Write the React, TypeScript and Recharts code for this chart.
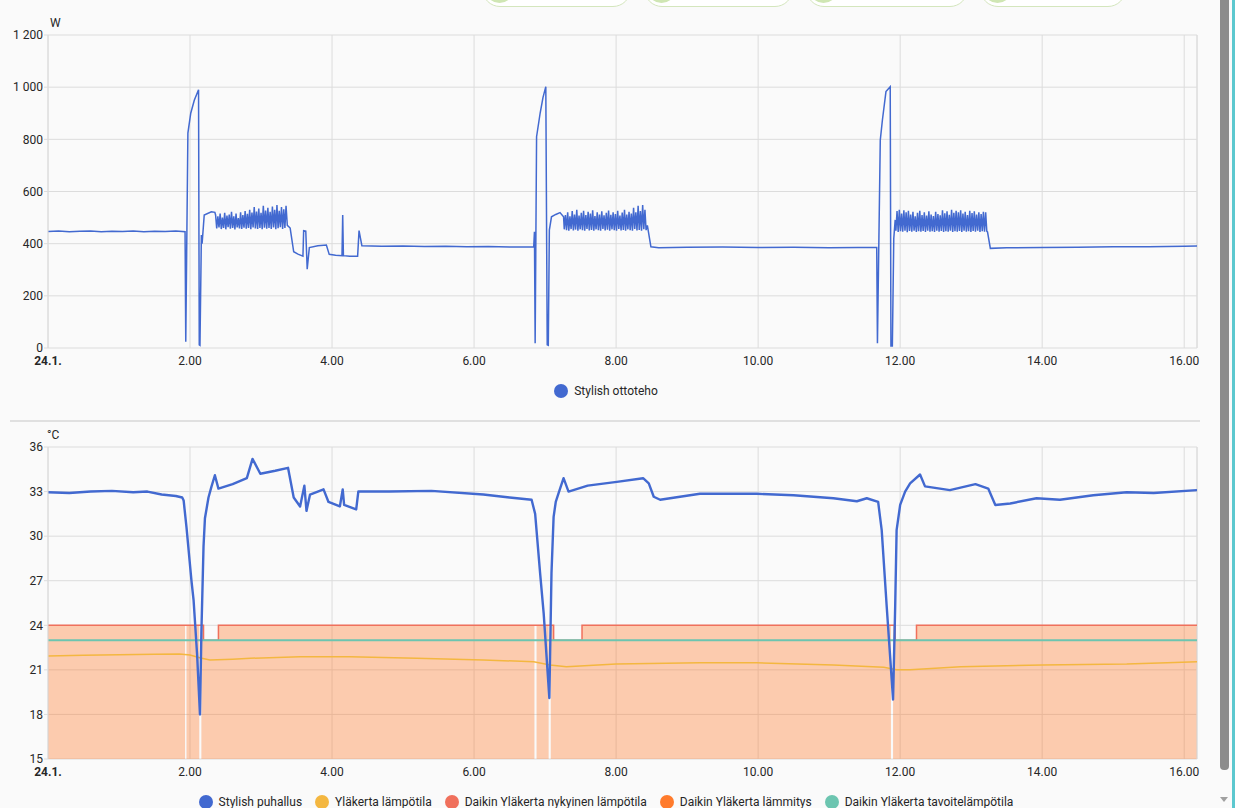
import React from "react";
import { LineChart, ComposedChart, Line, Area, XAxis, YAxis, CartesianGrid, ReferenceLine } from "recharts";

// time axis: hours since midnight 24.1.
const xTicks = [0, 2, 4, 6, 8, 10, 12, 14, 16];
const xTickLabels = ["24.1.", "2.00", "4.00", "6.00", "8.00", "10.00", "12.00", "14.00", "16.00"];
const xEnd = 16.18;

const powerTicks = [0, 200, 400, 600, 800, 1000, 1200];
const powerTickLabels = ["0", "200", "400", "600", "800", "1 000", "1 200"];
const tempTicks = [15, 18, 21, 24, 27, 30, 33, 36];

type Pt = [number, number | null];

// Stylish ottoteho (W)
const powerLead: Pt[] = [
  [0, 447], [0.15, 449], [0.3, 446], [0.45, 448], [0.6, 449], [0.75, 446], [0.9, 448], [1.05, 447],
  [1.2, 449], [1.35, 446], [1.5, 448], [1.65, 447], [1.8, 449], [1.93, 446], [1.94, 24], [1.97, 824],
  [2.01, 900], [2.06, 950], [2.12, 990], [2.13, 12], [2.14, 10], [2.16, 433], [2.17, 400], [2.2, 510],
  [2.3, 522], [2.35, 520],
];
const burstStep = 0.016;
const burst1Start = 2.36;
const burst1 = [
  510, 458, 505, 462, 515, 456, 500, 460, 518, 455, 508, 463, 512, 457, 522, 460, 505, 455, 515, 462,
  498, 458, 520, 456, 510, 461, 525, 457, 514, 460, 530, 455, 519, 462, 540, 458, 523, 456, 535, 460,
  518, 455, 545, 461, 527, 457, 538, 460, 522, 456, 542, 462, 530, 455, 548, 459, 526, 463, 540, 456,
  532, 460, 545,
];
const powerMid1: Pt[] = [
  [3.37, 470], [3.41, 460], [3.46, 369], [3.52, 360], [3.59, 352], [3.6, 450], [3.63, 448], [3.65, 302],
  [3.68, 385], [3.8, 392], [3.92, 395], [3.96, 359], [4.05, 356], [4.14, 354], [4.15, 510], [4.16, 354],
  [4.25, 352], [4.36, 352], [4.38, 450], [4.42, 392], [4.7, 390], [5.0, 391], [5.3, 389], [5.6, 390],
  [5.9, 388], [6.2, 389], [6.5, 387], [6.84, 388], [6.85, 446], [6.86, 18], [6.88, 810], [6.93, 900],
  [6.97, 960], [7.01, 1002], [7.03, 12], [7.045, 10], [7.06, 452], [7.09, 503], [7.15, 512], [7.21, 519],
  [7.26, 503],
];
const burst2Start = 7.27;
const burst2 = [
  455, 510, 452, 520, 450, 505, 456, 525, 451, 512, 454, 530, 450, 508, 455, 518, 452, 526, 450, 510,
  456, 522, 451, 515, 453, 528, 450, 506, 455, 520, 452, 512, 450, 524, 456, 509, 451, 518, 454, 527,
  450, 511, 455, 520, 452, 514, 450, 526, 456, 508, 451, 519, 453, 530, 450, 512, 455, 522, 452, 515,
  450, 538, 456, 520, 451, 545, 453, 525, 450, 548, 455, 530, 452,
];
const powerMid2: Pt[] = [
  [8.44, 470], [8.49, 388], [8.6, 384], [9.0, 386], [9.5, 387], [10.0, 385], [10.5, 386], [11.0, 384],
  [11.4, 385], [11.67, 385], [11.68, 18], [11.72, 797], [11.75, 874], [11.8, 983], [11.86, 1002],
  [11.87, 8], [11.89, 8], [11.91, 420], [11.93, 491],
];
const burst3Start = 11.94;
const burst3 = [
  450, 525, 445, 530, 448, 515, 446, 528, 450, 520, 444, 526, 449, 512, 446, 522, 450, 505, 445, 518,
  448, 526, 446, 510, 449, 520, 445, 508, 450, 524, 446, 512, 448, 506, 445, 522, 450, 514, 446, 509,
  449, 528, 445, 516, 448, 524, 446, 511, 450, 530, 445, 518, 448, 526, 446, 520, 449, 528, 445, 515,
  450, 522, 446, 510, 448, 526, 445, 517, 449, 524, 446, 512, 450, 520, 445, 514, 448, 522, 446, 520,
  448,
];
const powerTail: Pt[] = [
  [13.23, 445], [13.27, 382], [13.5, 384], [14.0, 385], [14.5, 386], [15.0, 388], [15.5, 388],
  [16.0, 390], [16.18, 391],
];

// Stylish puhallus (°C)
const supplyAir: Pt[] = [
  [0, 32.95], [0.3, 32.9], [0.6, 33.0], [0.9, 33.05], [1.2, 32.95], [1.4, 33.0], [1.6, 32.8], [1.8, 32.7],
  [1.89, 32.6], [1.91, 32.4], [1.95, 30.6], [2.02, 27.0], [2.05, 25.7], [2.1, 22.0], [2.14, 18.0],
  [2.16, 23.5], [2.19, 29.3], [2.21, 31.2], [2.26, 32.6], [2.3, 33.3], [2.35, 34.1], [2.4, 33.2],
  [2.6, 33.5], [2.8, 33.9], [2.88, 35.2], [2.99, 34.2], [3.2, 34.4], [3.38, 34.6], [3.46, 32.6],
  [3.55, 32.0], [3.61, 33.4], [3.64, 31.7], [3.69, 32.8], [3.88, 33.15], [3.95, 32.3], [4.11, 32.0],
  [4.15, 33.15], [4.17, 32.1], [4.34, 31.8], [4.37, 33.0], [4.8, 33.0], [5.4, 33.05], [6.13, 32.8],
  [6.5, 32.6], [6.81, 32.45], [6.86, 31.5], [6.93, 27.5], [6.98, 24.8], [7.06, 19.1], [7.09, 27.5],
  [7.12, 31.3], [7.15, 32.3], [7.19, 32.9], [7.26, 33.9], [7.33, 33.0], [7.6, 33.4], [8.01, 33.65],
  [8.38, 33.9], [8.46, 33.55], [8.53, 32.65], [8.62, 32.45], [9.18, 32.85], [9.98, 32.85], [10.5, 32.75],
  [11.06, 32.55], [11.39, 32.35], [11.53, 32.55], [11.69, 32.3], [11.74, 30.4], [11.81, 25.3],
  [11.9, 19.0], [11.93, 25.3], [11.95, 30.4], [12.0, 32.1], [12.07, 33.0], [12.14, 33.55], [12.28, 34.15],
  [12.35, 33.35], [12.7, 33.1], [13.06, 33.5], [13.24, 33.2], [13.34, 32.1], [13.55, 32.2], [13.92, 32.55],
  [14.25, 32.45], [14.72, 32.75], [15.19, 32.95], [15.57, 32.9], [16.18, 33.1],
];

// Yläkerta lämpötila
const upstairsTemp: Pt[] = [
  [0, 21.93], [0.5, 21.98], [1.0, 22.02], [1.5, 22.05], [1.85, 22.07], [2.0, 22.0], [2.15, 21.8],
  [2.28, 21.66], [2.6, 21.72], [2.85, 21.78], [3.55, 21.89], [4.25, 21.89], [5.19, 21.78], [6.13, 21.66],
  [6.84, 21.55], [7.07, 21.33], [7.3, 21.21], [8.0, 21.39], [9.18, 21.48], [9.98, 21.48], [11.06, 21.33],
  [11.77, 21.18], [11.95, 21.0], [12.14, 21.0], [12.85, 21.21], [14.0, 21.33], [15.19, 21.39],
  [15.76, 21.48], [16.18, 21.55],
];

// Daikin Yläkerta nykyinen lämpötila
const daikinCurrent: Pt[] = [
  [0, 24], [2.19, 23], [2.4, 24], [7.12, 23], [7.52, 24], [11.93, 23], [12.23, 24], [16.18, 24],
];

// Daikin Yläkerta lämmitys (current temp while heating, null = not heating)
const daikinHeating: Pt[] = [
  [0, 24], [1.93, 24], [1.94, null], [1.95, 24], [2.13, 24], [2.14, null], [2.16, 24], [2.19, 23],
  [2.4, 24], [6.85, 24], [6.86, null], [6.88, 24], [7.05, 24], [7.06, null], [7.08, 24], [7.12, 23],
  [7.52, 24], [11.87, 24], [11.88, null], [11.9, 24], [11.93, 23], [12.23, 24], [16.18, 24],
];

// Daikin Yläkerta tavoitelämpötila
const daikinTarget: Pt[] = [[0, 23], [16.18, 23]];

const toRows = (pts: Pt[]) => pts.map(([t, v]) => ({ t, v }));
const burstRows = (start: number, values: number[]) =>
  values.map((v, i) => ({ t: start + i * burstStep, v }));

const powerRows = [
  ...toRows(powerLead),
  ...burstRows(burst1Start, burst1),
  ...toRows(powerMid1),
  ...burstRows(burst2Start, burst2),
  ...toRows(powerMid2),
  ...burstRows(burst3Start, burst3),
  ...toRows(powerTail),
];

const C = {
  blue: "#4269d0",
  yellow: "#f4b740",
  red: "#f0705c",
  orange: "#ff7b2c",
  teal: "#6cc5b0",
  grid: "#dcdcdc",
  text: "#262626",
};

const font = "Roboto, 'Noto Sans', sans-serif";

const TimeTick = (props: any) => {
  const { x, y, payload } = props;
  const i = xTicks.indexOf(payload.value);
  return (
    <text x={x} y={y} dy="0.71em" textAnchor="middle" fontSize={12} fontFamily={font}
      fontWeight={i === 0 ? 700 : 400} fill={C.text}>
      {xTickLabels[i]}
    </text>
  );
};

const Legend = ({ top, items }: { top: number; items: { name: string; color: string }[] }) => (
  <div style={{ position: "absolute", left: 0, top, width: 1212, display: "flex", justifyContent: "center",
    alignItems: "center", gap: 13, fontFamily: font, fontSize: 12, color: C.text }}>
    {items.map((it) => (
      <div key={it.name} style={{ display: "flex", alignItems: "center" }}>
        <span style={{ width: 14, height: 14, borderRadius: 7, background: it.color, marginRight: 6 }} />
        <span>{it.name}</span>
      </div>
    ))}
  </div>
);

const chipLefts = [482, 644, 806, 980];
const chipWidths = [147, 147, 160, 144];

export default function App() {
  const axisTick = { fontSize: 12, fill: C.text, fontFamily: font };
  return (
    <div style={{ position: "fixed", left: 0, top: 0, width: 1235, height: 808, background: "#fafafa",
      overflow: "hidden", fontFamily: font }}>
      {chipLefts.map((l, i) => (
        <div key={l} style={{ position: "absolute", left: l, top: -30, width: chipWidths[i], height: 35,
          border: "1px solid #d4e6bd", borderRadius: 18, background: "#fff", overflow: "hidden" }}>
          <div style={{ position: "absolute", left: 2, top: 3, width: 29, height: 29, borderRadius: 15,
            background: "#cfe6b3" }} />
        </div>
      ))}

      <div style={{ position: "absolute", left: 50, top: 16, fontSize: 12, lineHeight: "14px", color: C.text }}>W</div>
      <div style={{ position: "absolute", left: 0, top: 0 }}>
        <LineChart width={1210} height={370} margin={{ top: 35, right: 13, left: 0, bottom: 0 }}>
          <CartesianGrid stroke={C.grid} />
          <XAxis type="number" dataKey="t" domain={[0, xEnd]} ticks={xTicks} allowDataOverflow
            axisLine={false} tickLine={false} height={22} tick={<TimeTick />} interval={0} />
          <YAxis type="number" domain={[0, 1200]} ticks={powerTicks} width={48} interval={0}
            axisLine={{ stroke: C.grid }} tickLine={{ stroke: C.grid }} tickSize={4} tickMargin={1}
            tick={axisTick} tickFormatter={(v: number) => powerTickLabels[powerTicks.indexOf(v)]} />
          <ReferenceLine x={xEnd} stroke={C.grid} />
          <Line data={powerRows} dataKey="v" type="linear" stroke={C.blue} strokeWidth={1.5} dot={false}
            isAnimationActive={false} />
        </LineChart>
      </div>
      <Legend top={384} items={[{ name: "Stylish ottoteho", color: C.blue }]} />

      <div style={{ position: "absolute", left: 10, top: 420, width: 1190, height: 2, background: "#e0e0e0" }} />

      <div style={{ position: "absolute", left: 47, top: 428, fontSize: 12, lineHeight: "14px", color: C.text }}>°C</div>
      <div style={{ position: "absolute", left: 0, top: 412 }}>
        <ComposedChart width={1210} height={369} margin={{ top: 35, right: 13, left: 0, bottom: 0 }}>
          <CartesianGrid stroke={C.grid} />
          <XAxis type="number" dataKey="t" domain={[0, xEnd]} ticks={xTicks} allowDataOverflow
            axisLine={false} tickLine={false} height={22} tick={<TimeTick />} interval={0} />
          <YAxis type="number" domain={[15, 36]} ticks={tempTicks} width={48} interval={0} allowDataOverflow
            axisLine={{ stroke: C.grid }} tickLine={{ stroke: C.grid }} tickSize={4} tickMargin={1}
            tick={axisTick} />
          <ReferenceLine x={xEnd} stroke={C.grid} />
          <Area data={toRows(daikinHeating)} dataKey="v" type="stepAfter" baseValue={15} stroke="none"
            fill={C.orange} fillOpacity={0.37} isAnimationActive={false} />
          <Line data={toRows(daikinCurrent)} dataKey="v" type="stepAfter" stroke={C.red} strokeWidth={1.5}
            dot={false} isAnimationActive={false} />
          <Line data={toRows(daikinTarget)} dataKey="v" type="stepAfter" stroke={C.teal} strokeWidth={2}
            dot={false} isAnimationActive={false} />
          <Line data={toRows(upstairsTemp)} dataKey="v" type="linear" stroke={C.yellow} strokeWidth={1.5}
            dot={false} isAnimationActive={false} />
          <Line data={toRows(supplyAir)} dataKey="v" type="linear" stroke={C.blue} strokeWidth={2.4}
            strokeLinejoin="round" dot={false} isAnimationActive={false} />
        </ComposedChart>
      </div>
      <Legend top={795} items={[
        { name: "Stylish puhallus", color: C.blue },
        { name: "Yläkerta lämpötila", color: C.yellow },
        { name: "Daikin Yläkerta nykyinen lämpötila", color: C.red },
        { name: "Daikin Yläkerta lämmitys", color: C.orange },
        { name: "Daikin Yläkerta tavoitelämpötila", color: C.teal },
      ]} />

      <div style={{ position: "absolute", left: 1220, top: 0, width: 9, height: 770, background: "#8c8c8c",
        borderRadius: "0 0 4px 4px" }} />
      <div style={{ position: "absolute", left: 1220, top: 797, width: 0, height: 0,
        borderLeft: "4px solid transparent", borderRight: "4px solid transparent", borderTop: "5px solid #a0a0a0" }} />
      <div style={{ position: "absolute", left: 1232, top: 0, width: 3, height: 808, background: "#5cc8cf" }} />
    </div>
  );
}
